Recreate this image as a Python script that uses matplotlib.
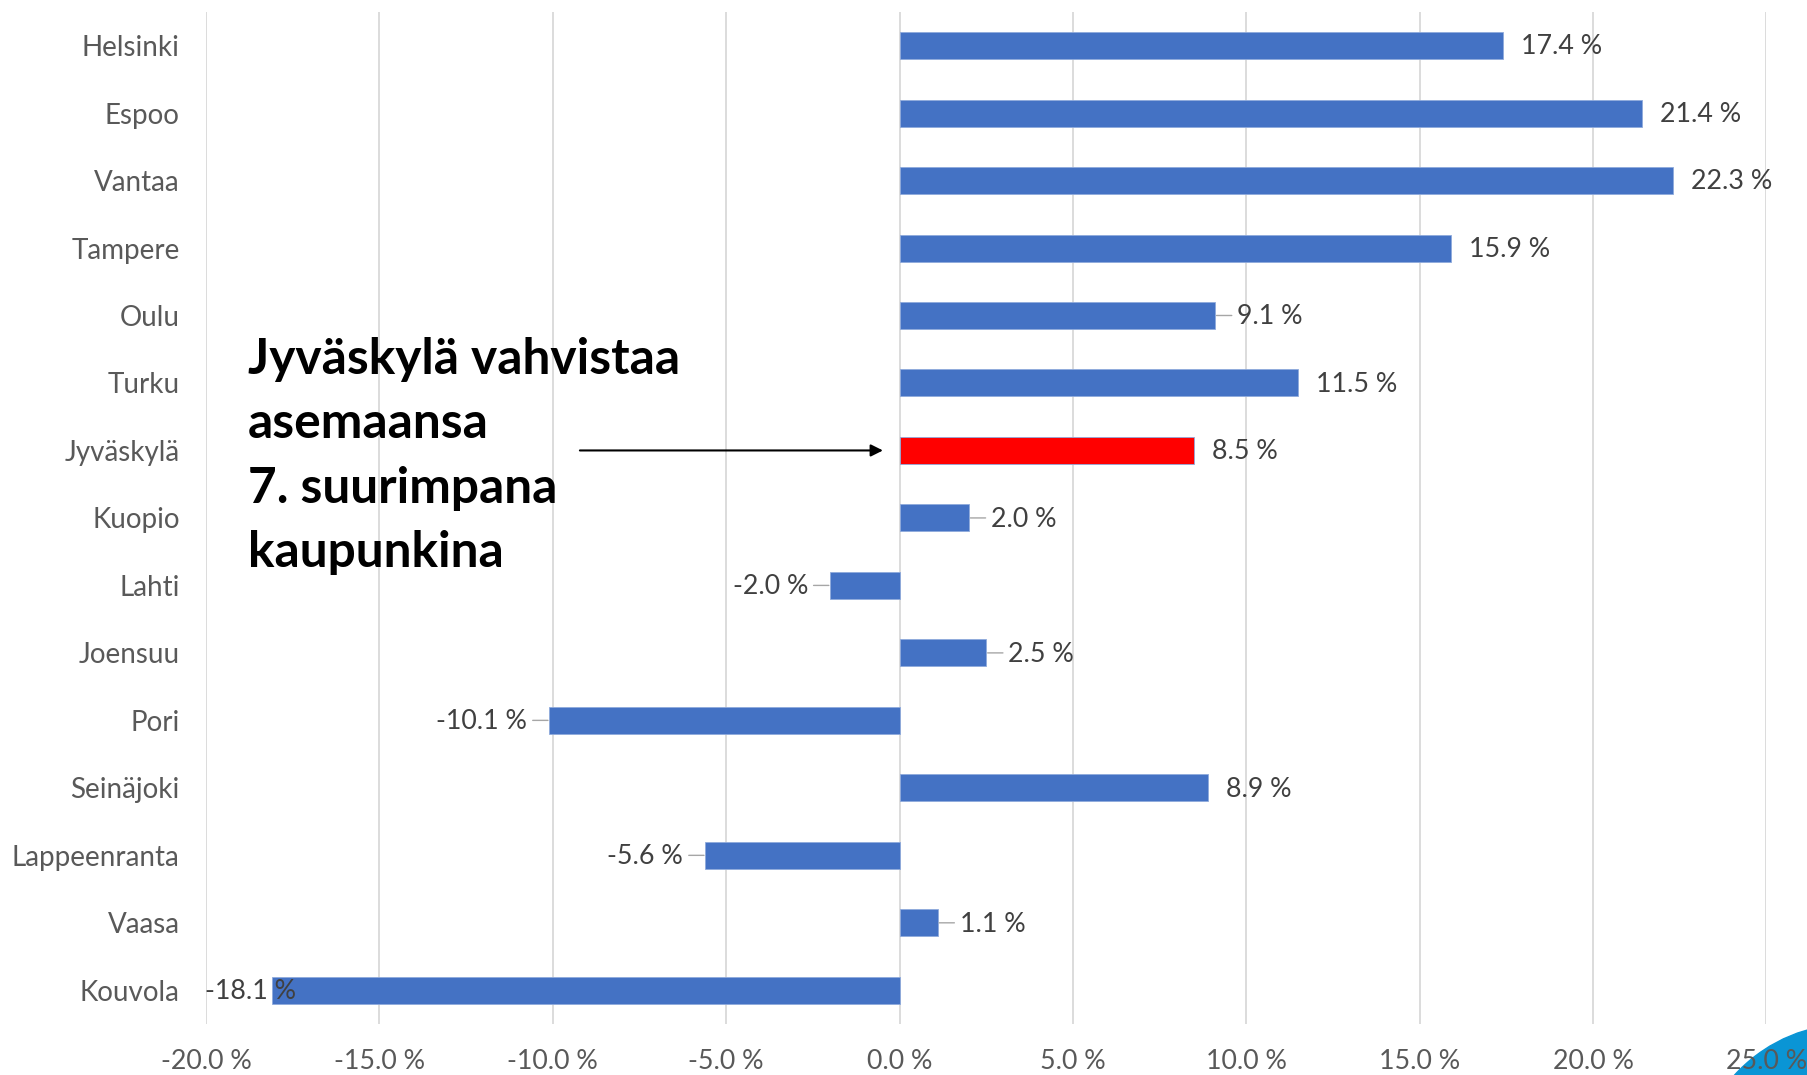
import matplotlib.pyplot as plt
from matplotlib.patches import Ellipse
from matplotlib.ticker import FuncFormatter

# kaupungit ja muutos-%
cities = ["Helsinki", "Espoo", "Vantaa", "Tampere", "Oulu", "Turku", "Jyväskylä",
          "Kuopio", "Lahti", "Joensuu", "Pori", "Seinäjoki", "Lappeenranta", "Vaasa", "Kouvola"]
change = [17.4, 21.4, 22.3, 15.9, 9.1, 11.5, 8.5, 2.0, -2.0, 2.5, -10.1, 8.9, -5.6, 1.1, -18.1]
# which data labels get a small leader line
leader = ["Oulu", "Kuopio", "Lahti", "Joensuu", "Pori", "Lappeenranta", "Vaasa"]
highlight = "Jyväskylä"

plt.rcParams['font.family'] = ['Lato', 'DejaVu Sans']

fig = plt.figure(figsize=(18.08, 10.75), dpi=100)
ax = fig.add_axes([0.114, 0.0474, 0.863, 0.9416])
ax.set_zorder(1)

y = list(range(len(cities)))
colors = ["#ff0000" if c == highlight else "#4472c4" for c in cities]
ax.barh(y, change, height=0.4, color=colors, edgecolor="#8faadc", linewidth=0.6, zorder=2)

ax.set_xlim(-20, 25)
ax.set_ylim(len(cities) - 0.5, -0.5)
ax.set_xticks(range(-20, 26, 5))
ax.xaxis.set_major_formatter(FuncFormatter(lambda v, p: f"{v:.1f} %"))
ax.set_yticks(y)
ax.set_yticklabels(cities)
ax.tick_params(axis="both", length=0, labelcolor="#595959")
ax.tick_params(axis="y", pad=19, labelsize=20)
ax.tick_params(axis="x", pad=18, labelsize=19.3)
ax.grid(axis="x", color="#d9d9d9", linewidth=1.3, zorder=0)
for s in ax.spines.values():
    s.set_visible(False)

# data labels
for i, (c, v) in enumerate(zip(cities, change)):
    txt = f"{v:.1f} %"
    if c == "Kouvola":
        ax.annotate(txt, (v, i), xytext=(-48, -1), textcoords="offset points",
                    ha="left", va="center", fontsize=19.3, color="#404040", zorder=3)
        continue
    sgn = 1 if v >= 0 else -1
    ha = "left" if v >= 0 else "right"
    off = 16 if c in leader else 13
    ax.annotate(txt, (v, i), xytext=(sgn * off, -1), textcoords="offset points",
                ha=ha, va="center", fontsize=19.3, color="#404040", zorder=3)
    if c in leader:
        ax.annotate("", (v, i), xytext=(sgn * 12, 0), textcoords="offset points",
                    arrowprops=dict(arrowstyle="-", color="#a6a6a6", lw=1,
                                    shrinkA=0, shrinkB=1))

# annotation text + arrow
fig.text(248 / 1808, 1 - 456 / 1075,
         "Jyväskylä vahvistaa\nasemaansa\n7. suurimpana\nkaupunkina",
         fontsize=35.7, fontweight="bold", color="#000000", ha="left", va="center",
         linespacing=1.52, zorder=2)
ax.annotate("", xy=(-0.4, cities.index(highlight)), xytext=(-9.3, cities.index(highlight)),
            arrowprops=dict(arrowstyle="-|>", color="black", lw=1.5, mutation_scale=18))

# blue decoration in the corner
fig.patches.append(Ellipse((1850 / 1808, 1 - 1180 / 1075), 312 / 1808, 312 / 1075,
                           transform=fig.transFigure, color="#0a95d5", zorder=-1))

fig.savefig("out.png", dpi=100)
